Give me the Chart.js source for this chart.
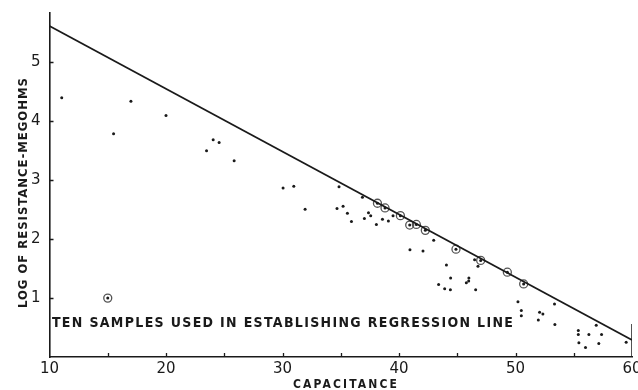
<!DOCTYPE html>
<html>
<head>
<meta charset="utf-8">
<script src="https://cdn.jsdelivr.net/npm/chart.js@4/dist/chart.umd.min.js"></script>
<style>
html,body{margin:0;padding:0;background:#fff;}
#wrap{width:638px;height:390px;}
</style>
</head>
<body>
<div id="wrap"><canvas id="c" width="638" height="390"></canvas></div>
<script>
// ---- data ----
const capacitance = [11.05,15.5,16.99,20.0,23.48,24.05,24.56,25.85,30.05,30.97,31.94,34.68,34.85,35.2,35.57,35.92,36.86,37.03,37.38,37.57,38.06,38.58,39.09,39.49,40.94,42.06,42.98,43.4,43.92,44.07,44.41,44.43,45.78,45.98,46.0,46.49,46.58,46.78,50.21,50.5,50.5,51.96,52.07,52.35,53.35,53.38,55.39,55.39,55.44,56.01,56.3,56.93,57.15,57.39,59.5];
const logResistance = [4.40,3.79,4.34,4.10,3.50,3.69,3.64,3.33,2.87,2.90,2.51,2.52,2.89,2.56,2.44,2.30,2.71,2.35,2.45,2.40,2.25,2.34,2.31,2.40,1.82,1.80,1.98,1.23,1.16,1.56,1.14,1.34,1.26,1.29,1.34,1.65,1.14,1.54,0.94,0.79,0.70,0.63,0.76,0.73,0.90,0.55,0.45,0.38,0.24,0.16,0.38,0.54,0.23,0.38,0.25];
const sampleCapacitance = [38.15,38.80,40.12,40.92,41.49,42.26,44.89,47.01,49.30,50.70];
const sampleLogResistance = [2.61,2.53,2.40,2.24,2.25,2.15,1.83,1.64,1.44,1.24];
const regressionX = [10,60];
const regressionY = [5.62,0.29];
const legendMarkerX = [15];
const legendMarkerY = [1.0];
const xTickLabels = [10,20,30,40,50,60];
const yTickLabels = [1,2,3,4,5];
const xTitle = "CAPACITANCE";
const yTitle = "LOG OF RESISTANCE-MEGOHMS";
const noteText = "TEN SAMPLES USED IN ESTABLISHING REGRESSION LINE";

const zip = (xs, ys) => xs.map((x, i) => ({x: x, y: ys[i]}));
const INK = '#1a1a1a';

function spacedText(ctx, text, x, y, width) {
  ctx.letterSpacing = '0px';
  const w = ctx.measureText(text).width;
  const ls = (width - w) / (text.length - 1);
  ctx.letterSpacing = ls + 'px';
  ctx.fillText(text, x, y);
  ctx.letterSpacing = '0px';
}

const decor = {
  id: 'decor',
  afterDraw(chart) {
    const ctx = chart.ctx;
    const xs = chart.scales.x, ys = chart.scales.y;
    ctx.save();
    // inner tick marks
    ctx.strokeStyle = INK;
    ctx.lineWidth = 1.3;
    ctx.beginPath();
    for (let v = 15; v <= 55; v += 5) {
      const px = Math.round(xs.getPixelForValue(v)) + 0.5;
      ctx.moveTo(px, ys.getPixelForValue(0));
      ctx.lineTo(px, ys.getPixelForValue(0) - 4);
    }
    for (const v of yTickLabels) {
      const py = Math.round(ys.getPixelForValue(v)) + 0.5;
      ctx.moveTo(xs.getPixelForValue(10), py);
      ctx.lineTo(xs.getPixelForValue(10) + 4, py);
    }
    ctx.stroke();
    ctx.fillStyle = INK;
    ctx.textBaseline = 'alphabetic';
    ctx.textAlign = 'left';
    // annotation
    ctx.font = 'bold 14px "DejaVu Sans Condensed", "DejaVu Sans"';
    const ax0 = xs.getPixelForValue(10.21), ax1 = xs.getPixelForValue(49.78);
    spacedText(ctx, noteText, ax0, ys.getPixelForValue(0.51), ax1 - ax0);
    // x title
    ctx.font = 'bold 12px "DejaVu Sans Condensed", "DejaVu Sans"';
    spacedText(ctx, xTitle, 293, 387.5, 104);
    // y title
    ctx.translate(26.5, 308);
    ctx.rotate(-Math.PI / 2);
    ctx.font = 'bold 13px "DejaVu Sans Condensed", "DejaVu Sans"';
    spacedText(ctx, yTitle, 0, 0, 230);
    ctx.restore();
  }
};

new Chart(document.getElementById('c'), {
  type: 'scatter',
  data: {
    datasets: [
      {
        type: 'line',
        data: zip(regressionX, regressionY),
        borderColor: INK, borderWidth: 1.8,
        pointRadius: 0, fill: false, tension: 0
      },
      {
        data: zip(sampleCapacitance, sampleLogResistance).concat(zip(legendMarkerX, legendMarkerY)),
        pointRadius: 4, pointBorderWidth: 1.3,
        pointBorderColor: '#555', pointBackgroundColor: 'rgba(255,255,255,0)'
      },
      {
        data: zip(capacitance, logResistance).concat(zip(sampleCapacitance, sampleLogResistance)).concat(zip(legendMarkerX, legendMarkerY)),
        pointRadius: 1.5, pointBorderWidth: 0,
        pointBackgroundColor: INK, pointBorderColor: INK
      },
      {
        type: 'line',
        data: [{x: 60, y: 0}, {x: 60, y: 0.56}],
        borderColor: INK, borderWidth: 1.5, pointRadius: 0, fill: false
      }
    ]
  },
  options: {
    responsive: false,
    animation: false,
    layout: {padding: {left: 0, right: 6, top: 13, bottom: 0}},
    plugins: {legend: {display: false}, tooltip: {enabled: false}},
    scales: {
      x: {
        type: 'linear', min: 10, max: 60,
        ticks: {
          stepSize: 5, autoSkip: false, maxRotation: 0, padding: 3,
          color: INK, font: {family: 'DejaVu Sans', size: 15},
          callback: v => xTickLabels.includes(v) ? String(v) : ''
        },
        grid: {display: true, drawOnChartArea: false, drawTicks: false},
        border: {display: true, color: INK, width: 1.6},
        afterFit: s => { s.height = 33; s.paddingLeft = 0; s.paddingRight = 0; }
      },
      y: {
        type: 'linear', min: 0, max: 5.84,
        ticks: {
          stepSize: 1, autoSkip: false, padding: 9,
          color: INK, font: {family: 'DejaVu Sans', size: 15},
          callback: v => yTickLabels.includes(v) ? String(v) : ''
        },
        grid: {display: true, drawOnChartArea: false, drawTicks: false},
        border: {display: true, color: INK, width: 1.6},
        afterFit: s => { s.width = 49.5; s.paddingTop = 0; s.paddingBottom = 0; }
      }
    }
  },
  plugins: [decor]
});
</script>
</body>
</html>
